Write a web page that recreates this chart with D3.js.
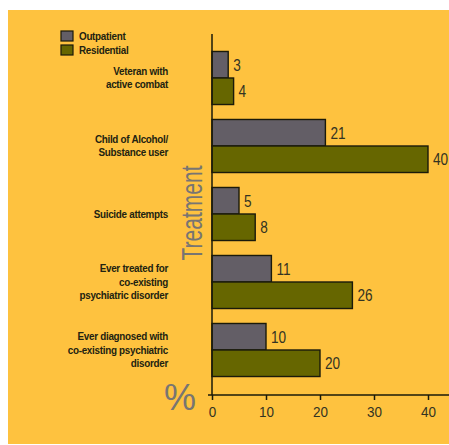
<!DOCTYPE html>
<html>
<head>
<meta charset="utf-8">
<script src="https://cdn.jsdelivr.net/npm/d3@7"></script>
<style>
  html, body { margin: 0; padding: 0; background: #ffffff; }
  svg { display: block; }
</style>
</head>
<body>
<svg id="chart" width="449" height="445"></svg>
<script>
// Risk factors by treatment setting, in percent
const categories = [
  ["Veteran with", "active combat"],
  ["Child of Alcohol/", "Substance user"],
  ["Suicide attempts"],
  ["Ever treated for", "co-existing", "psychiatric disorder"],
  ["Ever diagnosed with", "co-existing psychiatric", "disorder"]
];
const seriesNames = ["Outpatient", "Residential"];
const outpatient = [3, 21, 5, 11, 10];
const residential = [4, 40, 8, 26, 20];
const xTicks = [0, 10, 20, 30, 40];

const colors = { Outpatient: "#635e66", Residential: "#666600" };
const font = "'Liberation Sans', Arial, sans-serif";
const labelSqueeze = 0.94;  // horizontal compression for a condensed look

const svg = d3.select("#chart");

// panel background
svg.append("rect")
  .attr("x", 8).attr("y", 10)
  .attr("width", 441).attr("height", 434)
  .attr("fill", "#fec23f");

const keys = categories.map((c, i) => i);
const x = d3.scaleLinear().domain([0, 40]).range([212, 428]);
const y = d3.scaleBand().domain(keys).range([44, 384])
  .paddingInner(0.22).paddingOuter(0.11);
const ySub = d3.scaleBand().domain(seriesNames).range([0, y.bandwidth()]);

const rows = keys.map(i => ({
  i,
  values: [
    { name: "Outpatient", value: outpatient[i] },
    { name: "Residential", value: residential[i] }
  ]
}));

const groups = svg.append("g").selectAll("g")
  .data(rows).join("g")
  .attr("transform", d => `translate(0,${y(d.i)})`);

groups.selectAll("rect")
  .data(d => d.values).join("rect")
  .attr("x", x(0))
  .attr("y", d => ySub(d.name))
  .attr("width", d => x(d.value) - x(0))
  .attr("height", ySub.bandwidth())
  .attr("fill", d => colors[d.name])
  .attr("stroke", "#1a1a0a")
  .attr("stroke-width", 1.4);

groups.selectAll("text.val")
  .data(d => d.values).join("text")
  .attr("class", "val")
  .attr("transform", d =>
    `translate(${x(d.value) + 5},${ySub(d.name) + ySub.bandwidth() / 2}) scale(0.8,1)`)
  .attr("dy", "0.36em")
  .attr("font-family", font)
  .attr("font-size", 17)
  .attr("fill", "#333322")
  .text(d => d.value);

// category labels, right aligned and centred on each group
const lineH = 13.5;
groups.each(function(d) {
  const lines = categories[d.i];
  const c = y.bandwidth() / 2;
  const t = d3.select(this).append("text")
    .attr("transform", `translate(168,0) scale(${labelSqueeze},1)`)
    .attr("text-anchor", "end")
    .attr("font-family", font)
    .attr("font-size", 10.5)
    .attr("font-weight", "bold")
    .attr("letter-spacing", -0.3)
    .attr("fill", "#222211");
  lines.forEach((ln, k) => {
    t.append("tspan")
      .attr("x", 0)
      .attr("y", c + (k - (lines.length - 1) / 2) * lineH)
      .attr("dy", "0.35em")
      .text(ln);
  });
});

// axes
svg.append("line")
  .attr("x1", x(0)).attr("x2", x(0))
  .attr("y1", 34).attr("y2", 395)
  .attr("stroke", "#1a1a0a").attr("stroke-width", 1.5);

const xAxis = svg.append("g")
  .attr("transform", "translate(0,395)")
  .call(d3.axisBottom(x).tickValues(xTicks).tickSize(5).tickPadding(6));
xAxis.select(".domain").remove();
xAxis.append("line")
  .attr("x1", 208).attr("x2", 449)
  .attr("stroke", "#1a1a0a").attr("stroke-width", 1.5);
xAxis.selectAll(".tick line").attr("stroke", "#1a1a0a").attr("stroke-width", 1.5);
xAxis.selectAll(".tick text")
  .attr("transform", "scale(0.9,1)")
  .attr("x", 0)
  .attr("y", 22)
  .attr("dy", "0")
  .attr("font-family", font)
  .attr("font-size", 15)
  .attr("fill", "#333322");

// axis titles
svg.append("text")
  .attr("transform", "translate(202,213) rotate(-90)")
  .attr("text-anchor", "middle")
  .attr("font-family", font)
  .attr("font-size", 29)
  .attr("textLength", 95)
  .attr("lengthAdjust", "spacingAndGlyphs")
  .attr("fill", "#787572")
  .text("Treatment");

svg.append("text")
  .attr("x", 180).attr("y", 410)
  .attr("text-anchor", "middle")
  .attr("font-family", font)
  .attr("font-size", 36)
  .attr("fill", "#787572")
  .text("%");

// legend
const legend = svg.append("g").selectAll("g")
  .data(seriesNames).join("g")
  .attr("transform", (d, i) => `translate(61,${31 + i * 14})`);
legend.append("rect")
  .attr("width", 12).attr("height", 10)
  .attr("fill", d => colors[d])
  .attr("stroke", "#1a1a0a").attr("stroke-width", 1.2);
legend.append("text")
  .attr("transform", `translate(18,5) scale(${labelSqueeze},1)`)
  .attr("dy", "0.35em")
  .attr("font-family", font)
  .attr("font-size", 10.5)
  .attr("font-weight", "bold")
  .attr("letter-spacing", -0.3)
  .attr("fill", "#222211")
  .text(d => d);
</script>
</body>
</html>
